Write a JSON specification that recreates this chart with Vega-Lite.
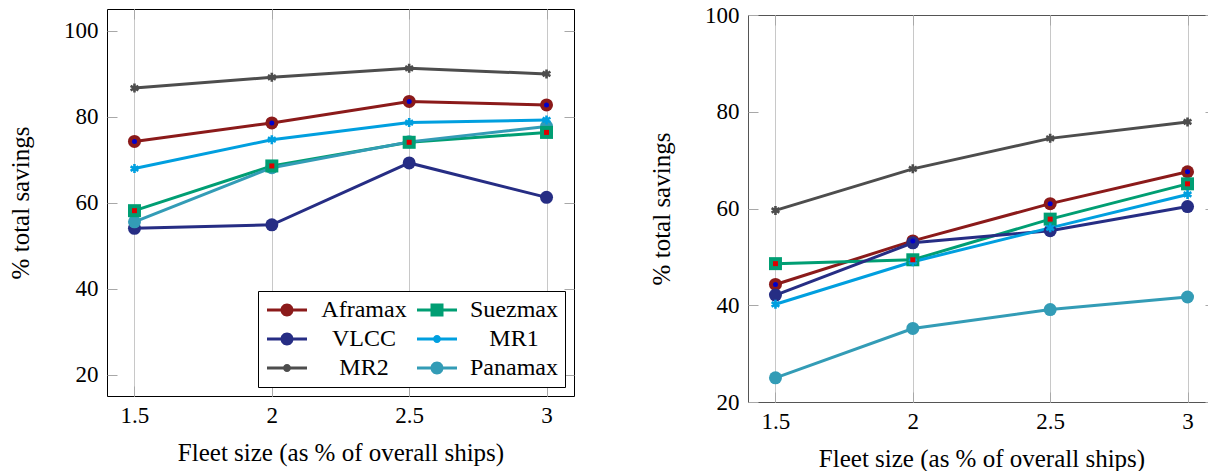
{
  "$schema": "https://vega.github.io/schema/vega-lite/v6.json",
  "padding": {"left": 8, "top": 3, "right": 0, "bottom": 0},
  "spacing": 74,
  "datasets": {
    "left": [
      {"ship": "Aframax", "fleet": 1.5, "savings": 74.2},
      {"ship": "Aframax", "fleet": 2, "savings": 78.5},
      {"ship": "Aframax", "fleet": 2.5, "savings": 83.5},
      {"ship": "Aframax", "fleet": 3, "savings": 82.7},
      {"ship": "Suezmax", "fleet": 1.5, "savings": 58.1},
      {"ship": "Suezmax", "fleet": 2, "savings": 68.5},
      {"ship": "Suezmax", "fleet": 2.5, "savings": 74.0},
      {"ship": "Suezmax", "fleet": 3, "savings": 76.3},
      {"ship": "VLCC", "fleet": 1.5, "savings": 54.0},
      {"ship": "VLCC", "fleet": 2, "savings": 54.8},
      {"ship": "VLCC", "fleet": 2.5, "savings": 69.2},
      {"ship": "VLCC", "fleet": 3, "savings": 61.2},
      {"ship": "MR1", "fleet": 1.5, "savings": 67.9},
      {"ship": "MR1", "fleet": 2, "savings": 74.6},
      {"ship": "MR1", "fleet": 2.5, "savings": 78.6},
      {"ship": "MR1", "fleet": 3, "savings": 79.2},
      {"ship": "MR2", "fleet": 1.5, "savings": 86.6},
      {"ship": "MR2", "fleet": 2, "savings": 89.1},
      {"ship": "MR2", "fleet": 2.5, "savings": 91.2},
      {"ship": "MR2", "fleet": 3, "savings": 89.9},
      {"ship": "Panamax", "fleet": 1.5, "savings": 55.5},
      {"ship": "Panamax", "fleet": 2, "savings": 68.1},
      {"ship": "Panamax", "fleet": 2.5, "savings": 74.1},
      {"ship": "Panamax", "fleet": 3, "savings": 77.7}
    ],
    "right": [
      {"ship": "Aframax", "fleet": 1.5, "savings": 44.3},
      {"ship": "Aframax", "fleet": 2, "savings": 53.3},
      {"ship": "Aframax", "fleet": 2.5, "savings": 61.0},
      {"ship": "Aframax", "fleet": 3, "savings": 67.6},
      {"ship": "Suezmax", "fleet": 1.5, "savings": 48.6},
      {"ship": "Suezmax", "fleet": 2, "savings": 49.4},
      {"ship": "Suezmax", "fleet": 2.5, "savings": 57.8},
      {"ship": "Suezmax", "fleet": 3, "savings": 65.1},
      {"ship": "VLCC", "fleet": 1.5, "savings": 42.1},
      {"ship": "VLCC", "fleet": 2, "savings": 52.9},
      {"ship": "VLCC", "fleet": 2.5, "savings": 55.4},
      {"ship": "VLCC", "fleet": 3, "savings": 60.4},
      {"ship": "MR1", "fleet": 1.5, "savings": 40.2},
      {"ship": "MR1", "fleet": 2, "savings": 49.0},
      {"ship": "MR1", "fleet": 2.5, "savings": 56.0},
      {"ship": "MR1", "fleet": 3, "savings": 62.9},
      {"ship": "MR2", "fleet": 1.5, "savings": 59.6},
      {"ship": "MR2", "fleet": 2, "savings": 68.2},
      {"ship": "MR2", "fleet": 2.5, "savings": 74.5},
      {"ship": "MR2", "fleet": 3, "savings": 77.9},
      {"ship": "Panamax", "fleet": 1.5, "savings": 25.0},
      {"ship": "Panamax", "fleet": 2, "savings": 35.2},
      {"ship": "Panamax", "fleet": 2.5, "savings": 39.1},
      {"ship": "Panamax", "fleet": 3, "savings": 41.7}
    ]
  },
  "config": {
    "font": "Liberation Serif",
    "view": {"stroke": "#000000", "strokeWidth": 1},
    "axis": {
      "labelFont": "Liberation Serif",
      "titleFont": "Liberation Serif",
      "labelFontSize": 23,
      "titleFontSize": 25,
      "titleFontWeight": "normal",
      "labelColor": "#000000",
      "titleColor": "#000000"
    },
    "legend": {
      "labelFont": "Liberation Serif",
      "labelFontSize": 24,
      "labelFontWeight": "normal",
      "labelColor": "#000000"
    }
  },
  "resolve": {"scale": {"color": "independent", "shape": "independent"}},
  "hconcat": [
    {
      "width": 467,
      "height": 387,
      "data": {"name": "left"},
      "resolve": {"axis": {"x": "independent", "y": "independent"}, "legend": {"color": "independent", "shape": "independent"}},
      "layer": [
        {
          "mark": {"type": "line", "strokeWidth": 3},
          "encoding": {
            "x": {"field": "fleet", "type": "quantitative",
              "scale": {"domain": [1.4, 3.1], "nice": false, "zero": false},
              "axis": {"values": [1.5, 2, 2.5, 3], "format": "~g", "title": "Fleet size (as % of overall ships)",
                "ticks": true, "tickSize": -10, "tickColor": "#a8a8a8", "tickWidth": 1,
                "grid": true, "gridColor": "#c8c8c8", "gridWidth": 1, "domain": false,
                "labelPadding": 18, "titlePadding": 13, "labelFont": "Liberation Serif", "titleFont": "Liberation Serif"}},
            "y": {"field": "savings", "type": "quantitative",
              "scale": {"domain": [15, 105], "nice": false, "zero": false},
              "axis": {"orient": "left", "values": [20, 40, 60, 80, 100], "format": "d", "title": "% total savings",
                "tickSize": -10, "tickColor": "#a8a8a8", "tickWidth": 1, "labelPadding": 19,
                "domain": false, "grid": false, "titlePadding": 30, "labelFont": "Liberation Serif", "titleFont": "Liberation Serif"}},
            "color": {"field": "ship", "type": "nominal",
              "scale": {"domain": ["Aframax", "VLCC", "MR2", "Suezmax", "MR1", "Panamax"],
                "range": ["#8B1A1A", "#262D84", "#4D4D4D", "#009E73", "#009FDF", "#339CB6"]},
              "legend": null}
          }
        },
        {
          "transform": [{"filter": {"field": "ship", "oneOf": ["Aframax", "VLCC", "Panamax"]}}],
          "mark": {"type": "point", "filled": true, "shape": "circle", "size": 169, "opacity": 1},
          "encoding": {
            "x": {"field": "fleet", "type": "quantitative",
              "axis": {"orient": "top", "values": [1.5, 2, 2.5, 3], "labels": false, "title": null,
                "tickSize": -10, "tickColor": "#a8a8a8", "tickWidth": 1, "domain": false, "grid": false,
                "minExtent": 0, "maxExtent": 0}},
            "y": {"field": "savings", "type": "quantitative",
              "axis": {"orient": "right", "values": [20, 40, 60, 80, 100], "labels": false, "title": null,
                "tickSize": -10, "tickColor": "#a8a8a8", "tickWidth": 1, "domain": false, "grid": false,
                "minExtent": 0, "maxExtent": 0}},
            "color": {"field": "ship", "type": "nominal", "legend": null}
          }
        },
        {
          "transform": [{"filter": {"field": "ship", "equal": "Suezmax"}}],
          "mark": {"type": "point", "filled": true, "shape": "square", "size": 169, "opacity": 1},
          "encoding": {
            "x": {"field": "fleet", "type": "quantitative", "axis": null},
            "y": {"field": "savings", "type": "quantitative", "axis": null},
            "color": {"field": "ship", "type": "nominal", "legend": null}
          }
        },
        {
          "transform": [{"filter": {"field": "ship", "oneOf": ["MR1", "MR2"]}}],
          "mark": {"type": "point", "filled": false, "shape": "M0,-1L0,1M-0.866,-0.5L0.866,0.5M-0.866,0.5L0.866,-0.5", "size": 81, "strokeWidth": 2.6, "opacity": 1},
          "encoding": {
            "x": {"field": "fleet", "type": "quantitative", "axis": null},
            "y": {"field": "savings", "type": "quantitative", "axis": null},
            "color": {"field": "ship", "type": "nominal", "legend": null}
          }
        },
        {
          "transform": [{"filter": {"field": "ship", "equal": "Aframax"}}],
          "mark": {"type": "point", "filled": true, "shape": "circle", "size": 25, "color": "#0000CC", "opacity": 1},
          "encoding": {
            "x": {"field": "fleet", "type": "quantitative", "axis": null},
            "y": {"field": "savings", "type": "quantitative", "axis": null}
          }
        },
        {
          "transform": [{"filter": {"field": "ship", "equal": "Suezmax"}}],
          "mark": {"type": "point", "filled": true, "shape": "square", "size": 25, "color": "#DD0000", "opacity": 1},
          "encoding": {
            "x": {"field": "fleet", "type": "quantitative", "axis": null},
            "y": {"field": "savings", "type": "quantitative", "axis": null}
          }
        },
        {
          "transform": [{"filter": "false"}],
          "mark": {"type": "point", "filled": true, "opacity": 1},
          "encoding": {
            "x": {"field": "fleet", "type": "quantitative", "axis": null},
            "y": {"field": "savings", "type": "quantitative", "axis": null},
            "color": {"field": "ship", "type": "nominal",
              "legend": {"orient": "bottom-right", "offset": 9, "columns": 2, "title": null,
                "labelAlign": "center", "labelOffset": 75, "symbolSize": 400, "symbolStrokeWidth": 0,
                "symbolOpacity": 1, "columnPadding": 8, "rowPadding": 5, "padding": 7,
                "labelFont": "Liberation Serif", "labelFontSize": 24, "labelFontWeight": "normal",
                "strokeColor": "#000000", "fillColor": "#ffffff", "cornerRadius": 0,
                "encode": {"labels": {"update": {"font": {"value": "Liberation Serif"}, "fontWeight": {"value": "normal"}}}}}},
            "shape": {"field": "ship", "type": "nominal",
              "scale": {"domain": ["Aframax", "VLCC", "MR2", "Suezmax", "MR1", "Panamax"],
                "range": [
                  "M-1,-0.15L3,-0.15L3,0.15L-1,0.15Z M1.65,0A0.65,0.65 0 1,1 0.35,0A0.65,0.65 0 1,1 1.65,0Z",
                  "M-1,-0.15L3,-0.15L3,0.15L-1,0.15Z M1.65,0A0.65,0.65 0 1,1 0.35,0A0.65,0.65 0 1,1 1.65,0Z",
                  "M-1,-0.15L3,-0.15L3,0.15L-1,0.15Z M1.4,0A0.4,0.4 0 1,1 0.6,0A0.4,0.4 0 1,1 1.4,0Z",
                  "M-1,-0.15L3,-0.15L3,0.15L-1,0.15Z M0.35,-0.65L1.65,-0.65L1.65,0.65L0.35,0.65Z",
                  "M-1,-0.15L3,-0.15L3,0.15L-1,0.15Z M1.4,0A0.4,0.4 0 1,1 0.6,0A0.4,0.4 0 1,1 1.4,0Z",
                  "M-1,-0.15L3,-0.15L3,0.15L-1,0.15Z M1.65,0A0.65,0.65 0 1,1 0.35,0A0.65,0.65 0 1,1 1.65,0Z"
                ]},
              "legend": {"orient": "bottom-right", "offset": 9, "columns": 2, "title": null,
                "labelAlign": "center", "labelOffset": 75, "symbolSize": 400, "symbolStrokeWidth": 0,
                "symbolOpacity": 1, "columnPadding": 8, "rowPadding": 5, "padding": 7,
                "labelFont": "Liberation Serif", "labelFontSize": 24, "labelFontWeight": "normal",
                "strokeColor": "#000000", "fillColor": "#ffffff", "cornerRadius": 0,
                "encode": {"labels": {"update": {"font": {"value": "Liberation Serif"}, "fontWeight": {"value": "normal"}}}}}}
          }
        }
      ]
    },
    {
      "spacing": -7,
      "vconcat": [
        {
          "width": 467,
          "height": 1,
          "data": {"values": []},
          "mark": "point",
          "encoding": {},
          "view": {"stroke": null}
        },
        {
          "width": 467,
          "height": 387,
          "view": {"stroke": "#555555"},
          "data": {"name": "right"},
          "resolve": {"axis": {"x": "independent", "y": "independent"}},
          "layer": [
            {
              "mark": {"type": "line", "strokeWidth": 3},
              "encoding": {
                "x": {"field": "fleet", "type": "quantitative",
                  "scale": {"domain": [1.4, 3.1], "nice": false, "zero": false},
                  "axis": {"values": [1.5, 2, 2.5, 3], "format": "~g", "title": "Fleet size (as % of overall ships)",
                    "ticks": true, "tickSize": -10, "tickColor": "#a8a8a8", "tickWidth": 1,
                    "grid": true, "gridColor": "#c8c8c8", "gridWidth": 1, "domain": false,
                    "labelPadding": 18, "titlePadding": 13, "labelFont": "Liberation Serif", "titleFont": "Liberation Serif"}},
                "y": {"field": "savings", "type": "quantitative",
                  "scale": {"domain": [20, 100], "nice": false, "zero": false},
                  "axis": {"orient": "left", "values": [20, 40, 60, 80, 100], "format": "d", "title": "% total savings",
                    "tickSize": -10, "tickColor": "#a8a8a8", "tickWidth": 1, "labelPadding": 19,
                    "domain": false, "grid": false, "titlePadding": 30, "labelFont": "Liberation Serif", "titleFont": "Liberation Serif"}},
                "color": {"field": "ship", "type": "nominal",
                  "scale": {"domain": ["Aframax", "VLCC", "MR2", "Suezmax", "MR1", "Panamax"],
                    "range": ["#8B1A1A", "#262D84", "#4D4D4D", "#009E73", "#009FDF", "#339CB6"]},
                  "legend": null}
              }
            },
            {
              "transform": [{"filter": {"field": "ship", "oneOf": ["Aframax", "VLCC", "Panamax"]}}],
              "mark": {"type": "point", "filled": true, "shape": "circle", "size": 169, "opacity": 1},
              "encoding": {
                "x": {"field": "fleet", "type": "quantitative",
                  "axis": {"orient": "top", "values": [1.5, 2, 2.5, 3], "labels": false, "title": null,
                    "tickSize": -10, "tickColor": "#a8a8a8", "tickWidth": 1, "domain": false, "grid": false,
                    "minExtent": 0, "maxExtent": 0}},
                "y": {"field": "savings", "type": "quantitative",
                  "axis": {"orient": "right", "values": [20, 40, 60, 80, 100], "labels": false, "title": null,
                    "tickSize": -10, "tickColor": "#a8a8a8", "tickWidth": 1, "domain": false, "grid": false,
                    "minExtent": 0, "maxExtent": 0}},
                "color": {"field": "ship", "type": "nominal", "legend": null}
              }
            },
            {
              "transform": [{"filter": {"field": "ship", "equal": "Suezmax"}}],
              "mark": {"type": "point", "filled": true, "shape": "square", "size": 169, "opacity": 1},
              "encoding": {
                "x": {"field": "fleet", "type": "quantitative", "axis": null},
                "y": {"field": "savings", "type": "quantitative", "axis": null},
                "color": {"field": "ship", "type": "nominal", "legend": null}
              }
            },
            {
              "transform": [{"filter": {"field": "ship", "oneOf": ["MR1", "MR2"]}}],
              "mark": {"type": "point", "filled": false, "shape": "M0,-1L0,1M-0.866,-0.5L0.866,0.5M-0.866,0.5L0.866,-0.5", "size": 81, "strokeWidth": 2.6, "opacity": 1},
              "encoding": {
                "x": {"field": "fleet", "type": "quantitative", "axis": null},
                "y": {"field": "savings", "type": "quantitative", "axis": null},
                "color": {"field": "ship", "type": "nominal", "legend": null}
              }
            },
            {
              "transform": [{"filter": {"field": "ship", "equal": "Aframax"}}],
              "mark": {"type": "point", "filled": true, "shape": "circle", "size": 25, "color": "#0000CC", "opacity": 1},
              "encoding": {
                "x": {"field": "fleet", "type": "quantitative", "axis": null},
                "y": {"field": "savings", "type": "quantitative", "axis": null}
              }
            },
            {
              "transform": [{"filter": {"field": "ship", "equal": "Suezmax"}}],
              "mark": {"type": "point", "filled": true, "shape": "square", "size": 25, "color": "#DD0000", "opacity": 1},
              "encoding": {
                "x": {"field": "fleet", "type": "quantitative", "axis": null},
                "y": {"field": "savings", "type": "quantitative", "axis": null}
              }
            }
          ]
        }
      ]
    }
  ]
}
